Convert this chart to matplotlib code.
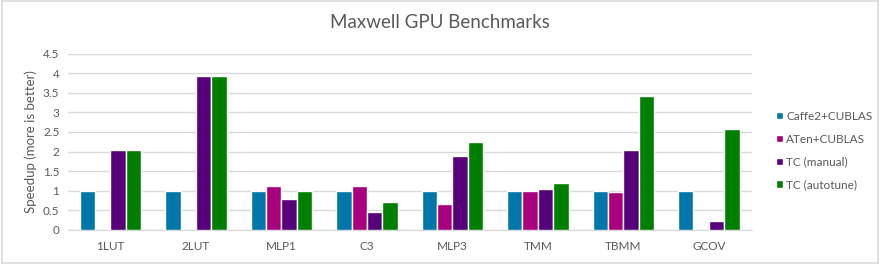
import numpy as np
import matplotlib.pyplot as plt
from matplotlib.patches import Rectangle

categories = ['1LUT', '2LUT', 'MLP1', 'C3', 'MLP3', 'TMM', 'TBMM', 'GCOV']
series = ['Caffe2+CUBLAS', 'ATen+CUBLAS', 'TC (manual)', 'TC (autotune)']
caffe2 = [1.0, 1.0, 1.0, 1.0, 1.0, 1.0, 1.0, 1.0]
aten = [0, 0, 1.12, 1.12, 0.65, 1.0, 0.98, 0]
tc_manual = [2.04, 3.93, 0.79, 0.47, 1.89, 1.04, 2.03, 0.24]
tc_autotune = [2.04, 3.93, 1.0, 0.72, 2.25, 1.19, 3.42, 2.58]
colors = ['#0077A8', '#A8007F', '#56007A', '#007F00']

plt.rcParams['font.family'] = ['Lato', 'DejaVu Sans']

fig = plt.figure(figsize=(8.8, 2.64), dpi=100)
fig.patches.append(Rectangle((0.002, 0.004), 0.996, 0.992, transform=fig.transFigure,
                             fill=False, edgecolor='#d9d9d9', linewidth=1.2))
ax = fig.add_axes([0.077, 0.129, 0.777, 0.668])

x = np.arange(len(categories))
w = 0.18
data = [caffe2, aten, tc_manual, tc_autotune]
for i, (vals, lab, c) in enumerate(zip(data, series, colors)):
    ax.bar(x + (i - 1.5) * w, vals, width=w, color=c, edgecolor='white',
           linewidth=1, label=lab, zorder=3)

ax.set_xlim(-0.5, len(categories) - 0.5)
ax.set_ylim(0, 4.5)
ax.set_yticks(np.arange(0, 4.51, 0.5))
ax.set_yticklabels(['0', '0.5', '1', '1.5', '2', '2.5', '3', '3.5', '4', '4.5'])
ax.set_xticks(x)
ax.set_xticklabels(categories)
ax.tick_params(length=0, labelsize=8.5, colors='#595959', pad=8)
ax.tick_params(axis='y', pad=6)
ax.grid(axis='y', color='#d9d9d9', linewidth=1, zorder=0)
for s in ['top', 'right', 'left']:
    ax.spines[s].set_visible(False)
ax.spines['bottom'].set_color('#d9d9d9')
ax.set_ylabel('Speedup (more is better)', fontsize=9.5, color='#595959', labelpad=4)

fig.text(0.5, 0.915, 'Maxwell GPU Benchmarks', ha='center', va='center',
         fontsize=13.5, color='#595959')

leg = ax.legend(loc='center left', bbox_to_anchor=(1.02, 0.45), frameon=False,
                fontsize=8.5, handlelength=0.6, handleheight=0.6, handletextpad=0.3,
                labelspacing=1.0)
for t in leg.get_texts():
    t.set_color('#595959')

fig.savefig('out.png', dpi=100)
